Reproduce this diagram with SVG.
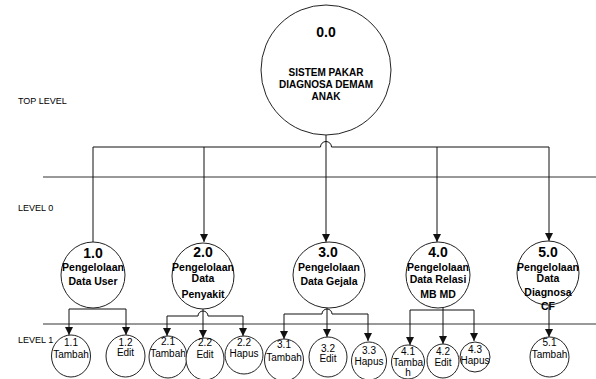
<svg xmlns="http://www.w3.org/2000/svg" width="596" height="379" viewBox="0 0 596 379">
<style>
.bg{fill:#ffffff}
.node{fill:#ffffff;stroke:#222;stroke-width:1}
.sep{stroke:#333;stroke-width:1;fill:none}
.con{stroke:#111;stroke-width:1;fill:none}
.arr{marker-end:url(#ah)}
.t0{font-family:"Liberation Sans",Arial,sans-serif;font-weight:bold;font-size:14px;text-anchor:middle;fill:#000}
.tb{font-family:"Liberation Sans",Arial,sans-serif;font-weight:bold;font-size:10.5px;text-anchor:middle;fill:#000}
.tt{font-family:"Liberation Sans",Arial,sans-serif;font-weight:bold;font-size:10px;text-anchor:middle;fill:#000}
.t1{font-family:"Liberation Sans",Arial,sans-serif;font-size:10px;text-anchor:middle;fill:#000}
.lv{font-family:"Liberation Sans",Arial,sans-serif;font-size:9px;fill:#000}
</style>
<defs>
<marker id="ah" markerUnits="userSpaceOnUse" markerWidth="8" markerHeight="8" viewBox="0 0 7 7" refX="7" refY="3.5" orient="auto">
<path d="M0,0 L7,3.5 L0,7 z" fill="#111"/>
</marker>
</defs>
<rect class="bg" x="0" y="0" width="596" height="379"/>
<g id="levels">
<line class="sep" x1="43" y1="177" x2="596" y2="177"/>
<line class="sep" x1="43" y1="324" x2="596" y2="324"/>
<text class="lv" x="18" y="104">TOP LEVEL</text>
<text class="lv" x="18" y="211">LEVEL 0</text>
<text class="lv" x="18" y="343">LEVEL 1</text>
</g>
<g id="connectors">
<path class="con" d="M93,242 V147 H320.5 A5.5,5.5 0 0 1 331.5,147 H549"/>
<path class="con arr" d="M326,135 V242"/>
<path class="con arr" d="M204,147 V242"/>
<path class="con arr" d="M437,147 V242"/>
<path class="con arr" d="M549,147 V241"/>
<path class="con arr" d="M93,309 H69 V335"/>
<path class="con arr" d="M93,309 H126 V335"/>
<path class="con arr" d="M203,309 V338"/>
<path class="con arr" d="M198,316 H167 V336"/>
<path class="con arr" d="M208,316 H243 V336"/>
<path class="con" d="M198,316 A5,5 0 0 1 208,316"/>
<path class="con arr" d="M327,308 V337"/>
<path class="con arr" d="M322,314 H284 V339"/>
<path class="con arr" d="M332,314 H368 V341"/>
<path class="con" d="M322,314 A5,5 0 0 1 332,314"/>
<path class="con arr" d="M443,308 V344"/>
<path class="con arr" d="M443,310 H410 V345"/>
<path class="con arr" d="M443,310 H474 V341"/>
<path class="con arr" d="M549,305 V337"/>
</g>
<g id="n0">
<ellipse class="node" cx="326" cy="70" rx="65" ry="65"/>
<text class="t0" x="326" y="37">0.0</text>
<text class="tt" x="326" y="76">SISTEM PAKAR</text>
<text class="tt" x="326" y="88">DIAGNOSA DEMAM</text>
<text class="tt" x="326" y="100">ANAK</text>
</g>
<g id="n1">
<ellipse class="node" cx="93" cy="275" rx="32" ry="33"/>
<text class="t0" x="93" y="258">1.0</text>
<text class="tb" x="93" y="271">Pengelolaan</text>
<text class="tb" x="93" y="285">Data User</text>
</g>
<g id="n2">
<ellipse class="node" cx="203" cy="276" rx="31" ry="33"/>
<text class="t0" x="203" y="257">2.0</text>
<text class="tb" x="203" y="271">Pengelolaan</text>
<text class="tb" x="203" y="282">Data</text>
<text class="tb" x="203" y="298">Penyakit</text>
</g>
<g id="n3">
<ellipse class="node" cx="329" cy="275" rx="36" ry="33"/>
<text class="t0" x="328" y="257">3.0</text>
<text class="tb" x="329" y="271">Pengelolaan</text>
<text class="tb" x="329" y="285">Data Gejala</text>
</g>
<g id="n4">
<ellipse class="node" cx="438" cy="275" rx="32" ry="33"/>
<text class="t0" x="438" y="257">4.0</text>
<text class="tb" x="438" y="271">Pengelolaan</text>
<text class="tb" x="438" y="283">Data Relasi</text>
<text class="tb" x="438" y="298">MB MD</text>
</g>
<g id="n5">
<ellipse class="node" cx="548" cy="273" rx="31" ry="32"/>
<text class="t0" x="548" y="257">5.0</text>
<text class="tb" x="548" y="271">Pengelolaan</text>
<text class="tb" x="548" y="282">Data</text>
<text class="tb" x="548" y="296">Diagnosa</text>
<text class="tb" x="548" y="310">CF</text>
</g>
<g id="n11">
<ellipse class="node" cx="71" cy="356" rx="19.5" ry="21"/>
<text class="t1" x="71" y="346">1.1</text>
<text class="t1" x="71" y="358">Tambah</text>
</g>
<g id="n12">
<ellipse class="node" cx="125.5" cy="356" rx="19.5" ry="21"/>
<text class="t1" x="125.5" y="346">1.2</text>
<text class="t1" x="125.5" y="356">Edit</text>
</g>
<g id="n21">
<ellipse class="node" cx="168" cy="357" rx="19" ry="21"/>
<text class="t1" x="168" y="345">2.1</text>
<text class="t1" x="168" y="357">Tambah</text>
</g>
<g id="n22">
<ellipse class="node" cx="205" cy="359" rx="19" ry="21"/>
<text class="t1" x="205" y="346">2.2</text>
<text class="t1" x="205" y="358">Edit</text>
</g>
<g id="n23">
<ellipse class="node" cx="244" cy="355" rx="19" ry="19"/>
<text class="t1" x="244" y="345.5">2.2</text>
<text class="t1" x="244" y="356.5">Hapus</text>
</g>
<g id="n31">
<ellipse class="node" cx="284" cy="360" rx="19.5" ry="21"/>
<text class="t1" x="284" y="348">3.1</text>
<text class="t1" x="284" y="361">Tambah</text>
</g>
<g id="n32">
<ellipse class="node" cx="328" cy="357" rx="19" ry="20"/>
<text class="t1" x="328" y="352">3.2</text>
<text class="t1" x="328" y="362">Edit</text>
</g>
<g id="n33">
<ellipse class="node" cx="369" cy="361" rx="17.5" ry="19"/>
<text class="t1" x="369" y="354">3.3</text>
<text class="t1" x="369" y="365">Hapus</text>
</g>
<g id="n41">
<ellipse class="node" cx="408" cy="362" rx="16.5" ry="17"/>
<text class="t1" x="408" y="354.5">4.1</text>
<text class="t1" x="408" y="366">Tamba</text>
<text class="t1" x="408" y="376">h</text>
</g>
<g id="n42">
<ellipse class="node" cx="443" cy="361" rx="16" ry="17"/>
<text class="t1" x="443" y="355">4.2</text>
<text class="t1" x="443" y="366">Edit</text>
</g>
<g id="n43">
<ellipse class="node" cx="475" cy="357" rx="15" ry="15"/>
<text class="t1" x="475" y="352.5">4.3</text>
<text class="t1" x="475" y="363.5">Hapus</text>
</g>
<g id="n51">
<ellipse class="node" cx="549.5" cy="357" rx="19.5" ry="20"/>
<text class="t1" x="549.5" y="346">5.1</text>
<text class="t1" x="549.5" y="358">Tambah</text>
</g>
</svg>
